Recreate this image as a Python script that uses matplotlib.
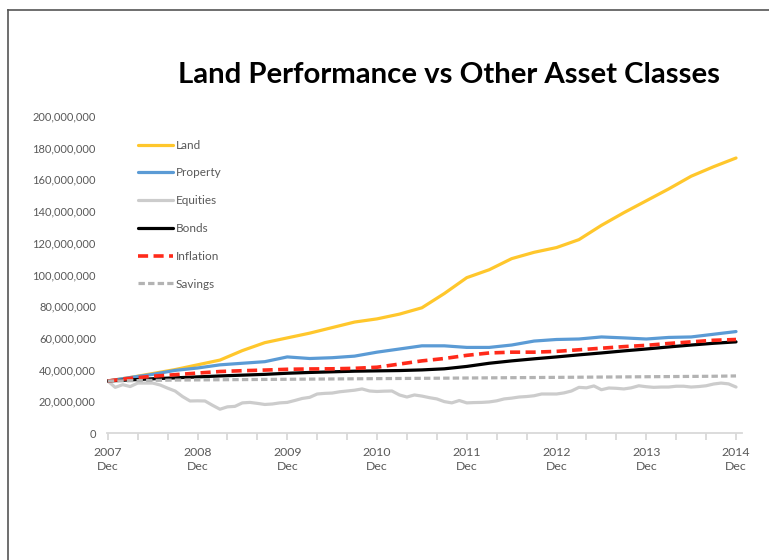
import numpy as np
import matplotlib
matplotlib.use("Agg")
import matplotlib.pyplot as plt
from matplotlib.lines import Line2D
from matplotlib.ticker import FuncFormatter, FixedLocator

plt.rcParams["font.family"] = ["Lato", "DejaVu Sans"]

# quarterly series, months after Dec 2007
q_months = list(range(0, 85, 3))
land = [32.8, 35, 37.5, 40, 43, 46, 52, 57, 60, 63, 66.5, 70, 72, 75, 79,
        88, 98, 103, 110, 114, 117, 122, 131, 139, 146.5, 154, 162, 168, 173.5]
prop = [32.8, 35, 37, 39.5, 41, 43, 44, 45, 48, 47, 47.5, 48.5, 51, 53, 55,
        55, 54, 54, 55.5, 58, 59, 59.3, 60.6, 60, 59.3, 60.3, 60.6, 62.3, 64]
bonds = [32.8, 33.5, 34.2, 34.8, 35.4, 36, 36.5, 37, 37.7, 38.2, 38.6, 39, 39.2, 39.4, 39.8,
         40.5, 42, 44, 45.5, 46.8, 48, 49.3, 50.5, 51.8, 53, 54.3, 55.5, 56.6, 57.5]
inflation = [32.8, 34.5, 35.8, 36.8, 37.8, 38.8, 39.3, 39.7, 40.2, 40.4, 40.5, 40.8, 41.5, 43.5, 45.5,
             47, 49, 50.5, 51, 51, 51.5, 52.5, 53.5, 54.5, 55.3, 56.5, 57.5, 58.5, 59]
savings = [32.8, 33.0, 33.2, 33.4, 33.5, 33.6, 33.7, 33.8, 33.9, 34.0, 34.1, 34.2, 34.3, 34.4, 34.5,
           34.6, 34.7, 34.8, 34.9, 35.0, 35.1, 35.2, 35.3, 35.4, 35.5, 35.6, 35.7, 35.8, 36.0]

# monthly equities
m_months = list(range(0, 85))
equities = [32.8, 28.8, 30.5, 29.3, 31.5, 31.5, 31.5, 30.3, 28.3, 26.5, 23.0, 20.2, 20.3, 20.2, 17.5,
            15.0, 16.5, 16.8, 19.0, 19.3, 18.7, 18.0, 18.3, 19.0, 19.3, 20.5, 21.8, 22.5, 24.6, 25.0,
            25.2, 26.0, 26.5, 27.0, 27.8, 26.5, 26.2, 26.4, 26.5, 24.0, 22.7, 24.0, 23.3, 22.3, 21.5,
            19.8, 19.0, 20.5, 19.0, 19.2, 19.3, 19.6, 20.3, 21.5, 22.0, 22.7, 23.0, 23.5, 24.6, 24.6,
            24.6, 25.3, 26.5, 28.8, 28.5, 29.7, 27.3, 28.4, 28.2, 27.8, 28.5, 29.8, 29.2, 28.8, 29.0,
            29.0, 29.5, 29.5, 29.0, 29.3, 29.8, 30.9, 31.5, 31.0, 29.0]

year_labels = ["2007\nDec", "2008\nDec", "2009\nDec", "2010\nDec",
               "2011\nDec", "2012\nDec", "2013\nDec", "2014\nDec"]

txt = "#595959"

fig = plt.figure(figsize=(7.69, 5.60), dpi=100)
ax = fig.add_axes([107/769, 127/560, 635/769, 317/560])

M = 1e6
ax.plot(q_months, np.array(land)*M, color="#FFC72C", lw=2.3, label="Land", solid_capstyle="round")
ax.plot(q_months, np.array(prop)*M, color="#5B9BD5", lw=2.3, label="Property", solid_capstyle="round")
ax.plot(m_months, np.array(equities)*M, color="#CCCCCC", lw=2.3, label="Equities", solid_capstyle="round")
ax.plot(q_months, np.array(bonds)*M, color="black", lw=2.3, label="Bonds", solid_capstyle="round")
ax.plot(q_months, np.array(inflation)*M, color="#FF2A1A", lw=2.6, label="Inflation",
        dashes=(2.8, 1.5))
ax.plot(q_months, np.array(savings)*M, color="#B3B3B3", lw=2.3, label="Savings",
        dashes=(2.0, 1.0))

ax.set_xlim(-0.1, 84.8)
ax.set_ylim(0, 200*M)
ax.set_yticks(np.arange(0, 201, 20)*M)
ax.yaxis.set_major_formatter(FuncFormatter(lambda v, p: "{:,.0f}".format(v)))
ax.xaxis.set_major_locator(FixedLocator(range(0, 85, 4)))
ax.set_xticklabels(["" for _ in range(0, 85, 4)])
for i, lab in enumerate(year_labels):
    ax.text(i*12, -9*M, lab, ha="center", va="top", fontsize=8.8, color=txt, linespacing=1.35)

for s in ["top", "right", "left"]:
    ax.spines[s].set_visible(False)
ax.spines["bottom"].set_color("#D9D9D9")
ax.spines["bottom"].set_linewidth(1.3)
ax.tick_params(axis="x", length=5, width=1.3, color="#D9D9D9", direction="out")
ax.tick_params(axis="y", length=0, labelsize=8, labelcolor=txt, pad=8)

leg = ax.legend(loc="upper left", bbox_to_anchor=(26/635, 1-19/317), frameon=False,
                fontsize=8.5, handlelength=3.0, handletextpad=0.25, labelspacing=1.42,
                borderaxespad=0)
for t in leg.get_texts():
    t.set_color(txt)

fig.text(449/769, 1-75/560, "Land Performance vs Other Asset Classes", ha="center", va="center",
         fontsize=21.2, fontweight="bold", color="black")

# chart frame (left and top edges visible)
fig.add_artist(Line2D([8/769, 8/769], [0, 1-10/560], transform=fig.transFigure,
                      color="#555555", lw=1.2))
fig.add_artist(Line2D([8/769, 1], [1-10/560, 1-10/560], transform=fig.transFigure,
                      color="#555555", lw=1.2))

fig.savefig("out.png", dpi=100)
